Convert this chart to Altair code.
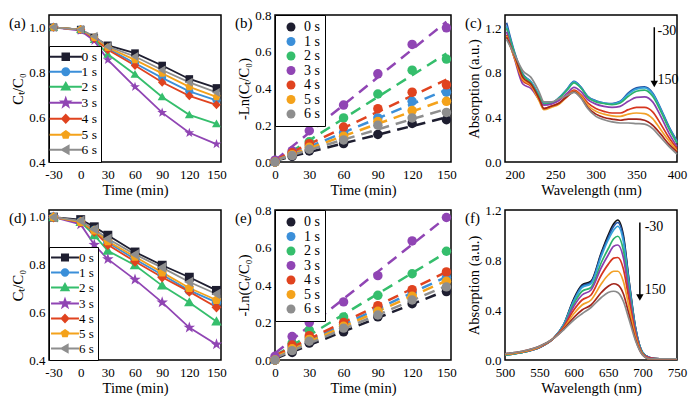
import altair as alt
import pandas as pd

FONT = "Liberation Serif"

# ---------------- data ----------------
series = ["0 s", "1 s", "2 s", "3 s", "4 s", "5 s", "6 s"]
series_colors = ["#1e1e30", "#3b8fd9", "#35be6c", "#9045b4", "#e0431f", "#f4a21b", "#8e8e8e"]

time_ad = [-30, 0, 15, 30, 60, 90, 120, 150]
a_values = [
    [1.0, 0.99, 0.955, 0.92, 0.885, 0.83, 0.77, 0.73],
    [1.0, 0.99, 0.95, 0.905, 0.84, 0.775, 0.715, 0.675],
    [1.0, 0.99, 0.945, 0.88, 0.79, 0.69, 0.61, 0.57],
    [1.0, 0.985, 0.94, 0.855, 0.735, 0.62, 0.53, 0.48],
    [1.0, 0.99, 0.95, 0.90, 0.83, 0.755, 0.695, 0.655],
    [1.0, 0.99, 0.955, 0.91, 0.855, 0.795, 0.735, 0.69],
    [1.0, 0.99, 0.96, 0.915, 0.87, 0.81, 0.755, 0.71],
]
d_values = [
    [0.995, 0.985, 0.955, 0.92, 0.85, 0.795, 0.745, 0.69],
    [0.995, 0.975, 0.94, 0.89, 0.82, 0.755, 0.69, 0.64],
    [0.995, 0.975, 0.92, 0.855, 0.795, 0.71, 0.64, 0.56],
    [0.995, 0.965, 0.88, 0.82, 0.735, 0.64, 0.535, 0.465],
    [0.995, 0.975, 0.935, 0.88, 0.81, 0.745, 0.685, 0.62],
    [0.995, 0.975, 0.94, 0.895, 0.83, 0.765, 0.70, 0.65],
    [0.995, 0.98, 0.945, 0.905, 0.84, 0.785, 0.725, 0.675],
]

time_be = [0, 15, 30, 60, 90, 120, 150]
b_values = [
    [0.0, 0.03, 0.06, 0.10, 0.15, 0.21, 0.23],
    [0.0, 0.04, 0.09, 0.16, 0.24, 0.33, 0.38],
    [0.0, 0.05, 0.11, 0.24, 0.37, 0.50, 0.56],
    [0.01, 0.06, 0.17, 0.31, 0.48, 0.64, 0.73],
    [0.0, 0.05, 0.10, 0.19, 0.29, 0.38, 0.42],
    [0.0, 0.04, 0.08, 0.14, 0.22, 0.28, 0.33],
    [0.0, 0.035, 0.07, 0.12, 0.20, 0.24, 0.27],
]
e_values = [
    [0.0, 0.04, 0.09, 0.15, 0.23, 0.30, 0.365],
    [0.0, 0.07, 0.12, 0.19, 0.27, 0.36, 0.44],
    [0.0, 0.09, 0.16, 0.23, 0.345, 0.46, 0.58],
    [0.02, 0.125, 0.20, 0.31, 0.45, 0.635, 0.76],
    [0.0, 0.08, 0.13, 0.20, 0.29, 0.375, 0.47],
    [0.0, 0.06, 0.11, 0.18, 0.26, 0.34, 0.42],
    [0.0, 0.05, 0.10, 0.17, 0.24, 0.32, 0.39],
]

c_wavelength = [190, 200, 210, 220, 230, 236, 245, 255, 265, 273, 282, 290,
                300, 310, 320, 330, 340, 350, 360, 370, 380, 390, 400]
c_curves = ["c -30", "c 0", "c 15", "c 30", "c 60", "c 90", "c 120", "c 150"]
c_colors = ["#2456a8", "#36a3dc", "#2cb36b", "#8a3fae", "#d6361f", "#f2a128", "#a3261b", "#8a8a8a"]
c_values = [
    [1.25, .98, .79, .72, .60, .53, .53, .58, .66, .725, .67, .59, .55, .53, .525, .545, .62, .665, .675, .62, .48, .32, .19],
    [1.22, .97, .78, .72, .60, .53, .53, .58, .655, .72, .665, .585, .545, .53, .52, .54, .61, .655, .665, .61, .47, .31, .18],
    [1.20, .97, .78, .71, .59, .52, .53, .575, .65, .71, .66, .58, .54, .525, .515, .53, .59, .635, .645, .59, .455, .30, .17],
    [1.17, .92, .70, .66, .56, .51, .52, .555, .62, .67, .63, .56, .52, .50, .49, .50, .545, .58, .585, .54, .41, .26, .14],
    [1.14, .93, .73, .68, .56, .48, .50, .53, .60, .645, .60, .53, .48, .455, .44, .44, .47, .49, .49, .45, .34, .22, .12],
    [1.13, .93, .74, .69, .55, .47, .49, .52, .59, .635, .59, .51, .455, .43, .415, .41, .43, .44, .435, .39, .29, .19, .10],
    [1.12, .95, .76, .70, .57, .48, .50, .53, .59, .63, .575, .49, .43, .40, .385, .375, .385, .385, .375, .33, .25, .16, .09],
    [1.10, .96, .82, .76, .63, .54, .54, .57, .60, .625, .57, .48, .41, .38, .36, .35, .35, .345, .34, .30, .22, .14, .07],
]

f_wavelength = [500, 525, 550, 570, 585, 600, 612, 625, 640, 650, 658, 664,
                672, 680, 690, 700, 710, 725, 750]
f_curves = ["f -30", "f 0", "f 15", "f 30", "f 45", "f 60", "f 90", "f 120", "f 150"]
f_colors = ["#111111", "#2456a8", "#36a3dc", "#2cb36b", "#8a3fae", "#d6361f", "#f2a128", "#a3261b", "#8a8a8a"]
f_values = [
    [.04, .06, .10, .17, .28, .49, .60, .63, .86, 1.00, 1.09, 1.12, 1.00, .65, .25, .06, .02, .01, .01],
    [.04, .06, .10, .17, .28, .48, .59, .62, .85, .98, 1.07, 1.10, .98, .64, .25, .06, .02, .01, .01],
    [.04, .06, .10, .17, .28, .47, .58, .61, .83, .96, 1.04, 1.07, .95, .62, .24, .06, .02, .01, .01],
    [.04, .06, .10, .17, .27, .45, .55, .58, .78, .89, .97, .99, .88, .58, .23, .055, .02, .01, .01],
    [.045, .065, .10, .17, .265, .43, .52, .56, .74, .84, .91, .92, .82, .54, .22, .05, .02, .01, .01],
    [.045, .065, .105, .17, .26, .40, .48, .52, .68, .765, .815, .82, .73, .49, .20, .05, .015, .01, .01],
    [.045, .065, .105, .17, .25, .37, .44, .48, .61, .68, .71, .71, .63, .43, .18, .045, .01, .01, .01],
    [.05, .07, .11, .17, .245, .34, .40, .44, .54, .59, .61, .60, .53, .37, .16, .04, .01, .01, .01],
    [.05, .07, .11, .17, .24, .32, .37, .42, .50, .54, .55, .54, .47, .33, .15, .04, .01, .01, .01],
]

panel_labels = ["(a)", "(b)", "(c)", "(d)", "(e)", "(f)"]

c_arrow = [372, 1.21, 0.70]
c_arrow_text = [["-30", 376, 1.175], ["150", 376, 0.74]]
f_arrow = [696, 1.10, 0.50]
f_arrow_text = [["-30", 703, 1.065], ["150", 703, 0.56]]

marker_paths = [
    "M-0.85,-0.85L0.85,-0.85L0.85,0.85L-0.85,0.85Z",
    "M0.9,0A0.9,0.9 0 1,1 -0.9,0A0.9,0.9 0 1,1 0.9,0Z",
    "M0,-1L1,0.75L-1,0.75Z",
    "M0,-1.15L0.27,-0.372L1.094,-0.355L0.437,0.142L0.676,0.93L0,0.46L-0.676,0.93L-0.437,0.142L-1.094,-0.355L-0.27,-0.372Z",
    "M0,-1L0.95,0L0,1L-0.95,0Z",
    "M0,-0.95L0.9,-0.29L0.56,0.77L-0.56,0.77L-0.9,-0.29Z",
    "M-1,0L0.75,-1L0.75,1Z",
]

WA, WB, WC = 172, 176, 172
H1 = 147
H2 = 150
MINUS_FIX = "replace(datum.label, '\u2212', '-')"


def long_df(xs, values, names, xname="t"):
    rows = []
    for name, vals in zip(names, values):
        for x, v in zip(xs, vals):
            rows.append({xname: x, "v": v, "s": name})
    return pd.DataFrame(rows)


def axis(values, title, fmt=None, expr=None):
    kw = dict(values=values, title=title, labelFlush=False, labelOverlap=False,
              titleFontWeight="normal", labelBound=False, tickCount=12)
    if fmt:
        kw["format"] = fmt
    if expr:
        kw["labelExpr"] = expr
    return alt.Axis(**kw)


def label_layer(text):
    return alt.Chart(pd.DataFrame({"lab": [text]})).mark_text(
        align="left", baseline="middle", font=FONT, fontSize=15, x=-40, y=8, color="black"
    ).encode(text="lab:N")


def ts_panel(values, label, ydom, msize, half, leg_size, leg_font, leg_rowpad, sym_off, lab_off, height):
    df = long_df(time_ad, values, series)
    base = alt.Chart(df)
    x = alt.X("t:Q", scale=alt.Scale(domain=[-35, 155], nice=False, zero=False),
              axis=axis([-30, 0, 30, 60, 90, 120, 150], "Time (min)", expr=MINUS_FIX))
    y = alt.Y("v:Q", scale=alt.Scale(domain=ydom, nice=False, zero=False),
              axis=axis([0.4, 0.6, 0.8, 1.0], "Cₜ/C₀", fmt=".1f"))
    col_scale = alt.Scale(domain=series, range=series_colors)
    shape_scale = alt.Scale(domain=series, range=[f"M-{half},0L{half},0" + p for p in marker_paths])
    leg = alt.Legend(title=None, orient="bottom-left", offset=0, padding=4,
                     strokeColor="black", fillColor="white", labelFont=FONT, labelFontSize=leg_font,
                     symbolSize=leg_size, symbolStrokeWidth=1.8, rowPadding=leg_rowpad,
                     symbolOffset=sym_off, labelOffset=lab_off, labelColor="black")
    layers = []
    for s, col in zip(series, series_colors):
        layers.append(base.transform_filter(alt.datum.s == s).mark_line(
            strokeWidth=1.8, color=col).encode(x=x, y=y))
    for s, col, p in zip(series, series_colors, marker_paths):
        layers.append(base.transform_filter(alt.datum.s == s).mark_point(
            filled=True, size=msize, opacity=1, strokeWidth=0, shape=p, color=col).encode(x=x, y=y))
    layers.append(base.transform_filter("false").mark_point(filled=True, opacity=1).encode(
        x=x, y=y,
        fill=alt.Fill("s:N", scale=col_scale, legend=leg),
        stroke=alt.Stroke("s:N", scale=col_scale, legend=leg),
        shape=alt.Shape("s:N", scale=shape_scale, legend=leg)))
    layers.append(label_layer(label))
    return alt.layer(*layers).properties(width=WA, height=height)


def ln_panel(values, label, height):
    df = long_df(time_be, values, series)
    base = alt.Chart(df)
    x = alt.X("t:Q", scale=alt.Scale(domain=[0, 154], nice=False, zero=False),
              axis=axis([0, 30, 60, 90, 120, 150], "Time (min)"))
    y = alt.Y("v:Q", scale=alt.Scale(domain=[0, 0.8], nice=False, zero=False),
              axis=axis([0.0, 0.2, 0.4, 0.6, 0.8], "-Ln(Cₜ/C₀)", fmt=".1f"))
    col_scale = alt.Scale(domain=series, range=series_colors)
    leg = alt.Legend(title=None, orient="top-left", offset=0, padding=5,
                     strokeColor="black", fillColor="white", labelFont=FONT, labelFontSize=14,
                     symbolSize=80, rowPadding=0.5, symbolOffset=4, labelOffset=6,
                     labelColor="black", symbolType="circle")
    layers = []
    for s, col in zip(series, series_colors):
        layers.append(base.transform_filter(alt.datum.s == s).transform_regression("t", "v").mark_line(
            strokeWidth=2.5, strokeDash=[11, 7], color=col).encode(x=x, y=y))
    layers.append(base.mark_point(filled=True, size=90, opacity=1, shape="circle").encode(
        x=x, y=y, color=alt.Color("s:N", scale=col_scale, legend=leg)))
    layers.append(label_layer(label))
    return alt.layer(*layers).properties(width=WB, height=height)


def spec_panel(wl, values, curves, colors, label, xdom, xvals, ydom, arrow, arrow_text, height):
    df = long_df(wl, values, curves, xname="w")
    x = alt.X("w:Q", scale=alt.Scale(domain=xdom, nice=False, zero=False),
              axis=axis(xvals, "Wavelength (nm)"))
    y = alt.Y("v:Q", scale=alt.Scale(domain=ydom, nice=False, zero=False),
              axis=axis([0.0, 0.4, 0.8, 1.2], "Absorption (a.u.)", fmt=".1f"))
    lines = alt.Chart(df).mark_line(strokeWidth=1.7, interpolate="monotone").encode(
        x=x, y=y, color=alt.Color("s:N", scale=alt.Scale(domain=curves, range=colors), legend=None))
    adf = pd.DataFrame({"w": [arrow[0]], "v": [arrow[1]], "v2": [arrow[2]]})
    rule = alt.Chart(adf).mark_rule(color="black", strokeWidth=1.5).encode(
        x=alt.X("w:Q"), y=alt.Y("v:Q"), y2="v2:Q")
    hdf = pd.DataFrame({"w": [arrow[0]], "v": [arrow[2]]})
    head = alt.Chart(hdf).mark_point(shape="triangle-down", filled=True, size=55, color="black",
                                     opacity=1).encode(x="w:Q", y="v:Q")
    tdf = pd.DataFrame(arrow_text, columns=["txt", "w", "v"])
    texts = alt.Chart(tdf).mark_text(align="left", baseline="middle", font=FONT, fontSize=14,
                                     color="black").encode(x="w:Q", y="v:Q", text="txt:N")
    return alt.layer(lines, rule, head, texts, label_layer(label)).properties(width=WC, height=height)


pa = ts_panel(a_values, panel_labels[0], [0.4, 1.055], 80, 4.1, 62, 13.5, 0, 6, 9, H1)
pb = ln_panel(b_values, panel_labels[1], H1)
pc = spec_panel(c_wavelength, c_values, c_curves, c_colors, panel_labels[2], [188, 400],
                [200, 250, 300, 350, 400], [0, 1.32], c_arrow, c_arrow_text, H1)
pd_ = ts_panel(d_values, panel_labels[3], [0.4, 1.025], 110, 3.8, 54, 13, 0, 5.5, 7.5, H2)
pe = ln_panel(e_values, panel_labels[4], H2)
pf = spec_panel(f_wavelength, f_values, f_curves, f_colors, panel_labels[5], [500, 750],
                [500, 550, 600, 650, 700, 750], [0, 1.2], f_arrow, f_arrow_text, H2)

IND = dict(color="independent", fill="independent", stroke="independent", shape="independent")
row1 = alt.hconcat(pa, pb, pc, spacing=7).resolve_scale(**IND).resolve_legend(**IND)
row2 = alt.hconcat(pd_, pe, pf, spacing=7).resolve_scale(**IND).resolve_legend(**IND)

chart = alt.vconcat(row1, row2, spacing=5).resolve_scale(**IND).resolve_legend(**IND).properties(
    padding=0
).configure_view(
    stroke="black", strokeWidth=1.5
).configure_axis(
    labelFont=FONT, titleFont=FONT, labelFontSize=13, titleFontSize=14.5,
    titleFontWeight="normal", labelColor="black", titleColor="black",
    domain=False, ticks=False, grid=False, labelPadding=4, titlePadding=3, labelOverlap=False
).configure_axisX(titlePadding=2, labelPadding=6, labelOverlap=False)

chart.save("out.html", embed_options={"renderer": "svg", "actions": False})
